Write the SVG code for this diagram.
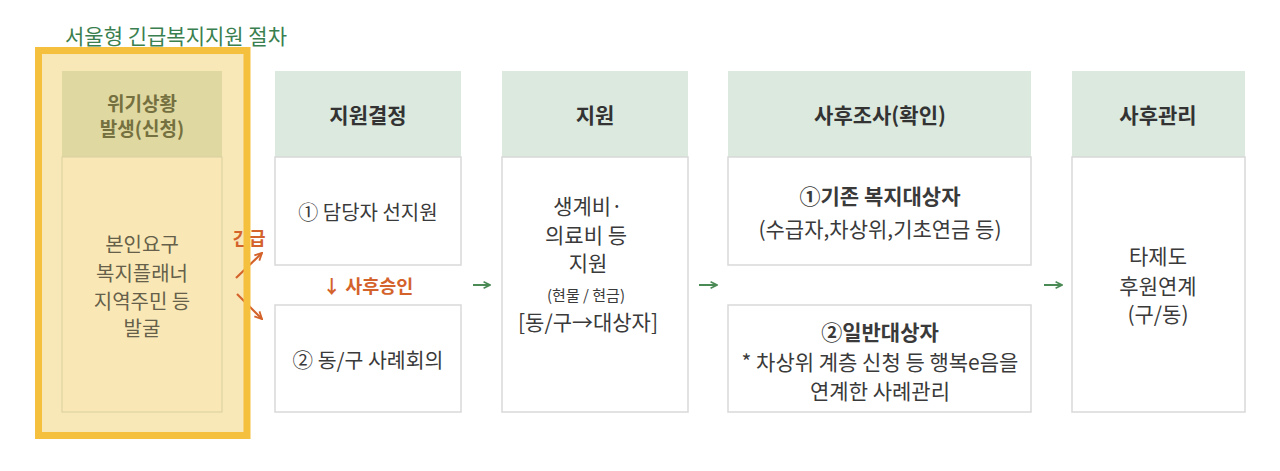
<svg xmlns="http://www.w3.org/2000/svg" width="1280" height="471" viewBox="0 0 1280 471">
<defs>
<style>
text{font-family:"Noto Sans CJK KR","Noto Sans",sans-serif;text-anchor:middle;dominant-baseline:central}
.hd{fill:#dbe9df}
.bx{fill:#ffffff;stroke:#d9d9d9;stroke-width:1.5}
.ht{font-size:21px;font-weight:bold;fill:#333333}
.bt{font-size:21px;fill:#3a3a3a}
.lt{font-size:20px;fill:#66604a}
.sm{font-size:15px;fill:#3a3a3a}
.ga{stroke:#4a8a55;stroke-width:2;fill:none}
.oa{stroke:#d4622b;stroke-width:2.2;fill:none}
</style>
<marker id="gh" viewBox="0 0 10 10" refX="9" refY="5" markerWidth="8" markerHeight="8" orient="auto" markerUnits="userSpaceOnUse"><path d="M1,1 L9,5 L1,9" fill="none" stroke="#4a8a55" stroke-width="2"/></marker>
<marker id="oh" viewBox="0 0 10 10" refX="9" refY="5" markerWidth="9" markerHeight="9" orient="auto" markerUnits="userSpaceOnUse"><path d="M1,1 L9,5 L1,9" fill="none" stroke="#d4622b" stroke-width="2"/></marker>
</defs>
<rect width="1280" height="471" fill="#ffffff"/>
<text x="176" y="35" style="font-size:21px;fill:#3a7f4f">서울형 긴급복지지원 절차</text>

<g id="node-crisis">
<rect x="38.5" y="50.5" width="208.5" height="385" fill="#f9e8b7"/>
<rect x="62" y="71" width="160" height="86" fill="#dfd8a0"/>
<rect x="62" y="157" width="160" height="255" fill="#f9e8b5" stroke="#d9cf9f" stroke-width="1"/>
<text x="142" y="102" style="font-size:19px;font-weight:bold;fill:#75703f">위기상황</text>
<text x="142" y="127" style="font-size:19px;font-weight:bold;fill:#75703f">발생(신청)</text>
<text class="lt" x="142" y="243">본인요구</text>
<text class="lt" x="142" y="272">복지플래너</text>
<text class="lt" x="142" y="300">지역주민 등</text>
<text class="lt" x="142" y="327">발굴</text>
</g>

<g id="node-decision">
<rect class="hd" x="275" y="71" width="186" height="86"/>
<text class="ht" x="368" y="114">지원결정</text>
<rect class="bx" x="275" y="157" width="186" height="108"/>
<text class="bt" x="368" y="211" style="font-size:20px">① 담당자 선지원</text>
<rect class="bx" x="275" y="305" width="186" height="107"/>
<text class="bt" x="368" y="359" style="font-size:20.5px">② 동/구 사례회의</text>
</g>

<g id="node-support">
<rect class="hd" x="502" y="71" width="186" height="86"/>
<text class="ht" x="595" y="114">지원</text>
<rect class="bx" x="502" y="157" width="186" height="255"/>
<text class="bt" x="588" y="205">생계비·</text>
<text class="bt" x="586" y="234">의료비 등</text>
<text class="bt" x="588" y="262">지원</text>
<text class="sm" x="586" y="294">(현물 / 현금)</text>
<text class="bt" x="588" y="321">[동/구→대상자]</text>
</g>

<g id="node-review">
<rect class="hd" x="728" y="71" width="303" height="86"/>
<text class="ht" x="880" y="114">사후조사(확인)</text>
<rect class="bx" x="728" y="157" width="303" height="108"/>
<text class="bt" x="880" y="195" style="font-weight:bold">①기존 복지대상자</text>
<text class="bt" x="880" y="228">(수급자,차상위,기초연금 등)</text>
<rect class="bx" x="728" y="305" width="303" height="107"/>
<text class="bt" x="880" y="331" style="font-weight:bold">②일반대상자</text>
<text class="bt" x="880" y="361">* 차상위 계층 신청 등 행복e음을</text>
<text class="bt" x="880" y="390">연계한 사례관리</text>
</g>

<g id="node-followup">
<rect class="hd" x="1072" y="71" width="173" height="86"/>
<text class="ht" x="1158" y="114">사후관리</text>
<rect class="bx" x="1072" y="157" width="173" height="255"/>
<text class="bt" x="1158" y="255">타제도</text>
<text class="bt" x="1158" y="285">후원연계</text>
<text class="bt" x="1158" y="313">(구/동)</text>
</g>

<g id="connectors">
<path class="ga" d="M473,285 H490" marker-end="url(#gh)"/>
<path class="ga" d="M699,285 H717" marker-end="url(#gh)"/>
<path class="ga" d="M1044,285 H1062" marker-end="url(#gh)"/>
<path class="oa" d="M236,278 L262,253" marker-end="url(#oh)"/>
<path class="oa" d="M237,294 L262,319" marker-end="url(#oh)"/>
<text x="249" y="237" style="font-size:18px;font-weight:bold;fill:#d4622b">긴급</text>
<text x="368" y="285" style="font-size:18.5px;font-weight:bold;fill:#d4622b">↓ 사후승인</text>
</g>

<g id="crisis-frame">
<rect x="38.5" y="50.5" width="208.5" height="385" fill="none" stroke="#f5c03e" stroke-width="7"/>
</g>
</svg>
